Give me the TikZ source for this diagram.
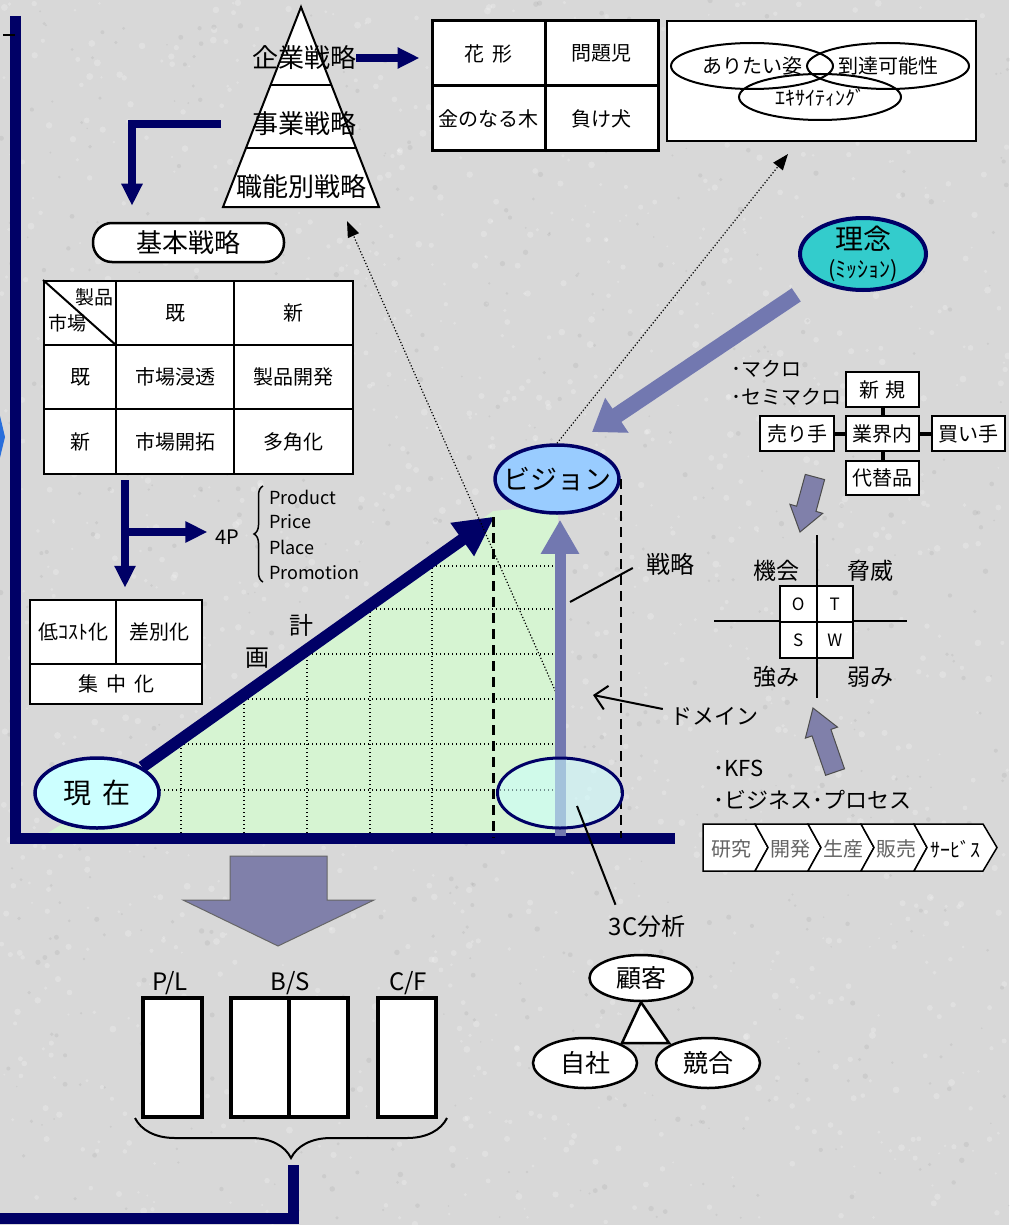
\documentclass[tikz,border=0pt]{standalone}
\usepackage{fontspec}
\setmainfont{Noto Sans CJK JP}
\usetikzlibrary{arrows.meta,shapes.geometric,decorations.pathreplacing}
\definecolor{navy}{RGB}{0,0,102}
\definecolor{bggray}{RGB}{216,216,216}
\definecolor{plangreen}{RGB}{214,244,210}
\definecolor{nowcyan}{RGB}{204,255,255}
\definecolor{visionblue}{RGB}{153,204,255}
\definecolor{missionteal}{RGB}{51,204,204}
\definecolor{arrowpurple}{RGB}{128,128,170}
\definecolor{stratblue}{RGB}{114,120,176}
\definecolor{chevblue}{RGB}{40,110,220}
\definecolor{procgray}{RGB}{100,100,100}
\begin{document}
\begin{tikzpicture}[x=1pt,y=-1pt,
  jp/.style={font=\fontsize{#1}{#1}\selectfont,inner sep=0pt},
  cell/.style={draw,line width=2pt,fill=white,inner sep=0pt},
  oval/.style={ellipse,draw,inner sep=0pt},
  navyarrow/.style={navy,line width=8pt,-{Triangle[length=22pt,width=20pt]}},
  dotarrow/.style={line width=1.2pt,dash pattern=on 1.2pt off 2pt,-{Triangle[length=16pt,width=12pt]}},
  gridline/.style={line width=1.4pt,dash pattern=on 1.4pt off 2.6pt},
  domainline/.style={line width=2.5pt,dash pattern=on 10pt off 6pt},
  bluearrow/.style={stratblue},
  blockarrow/.style={draw=black!70,fill=arrowpurple,line width=1pt,line join=miter},
  procstep/.style={draw,line width=1.5pt,fill=white}]
  \useasboundingbox (0,0) rectangle (1009,1225);
  \fill[bggray] (0,0) rectangle (1009,1225);
  \pgfmathsetseed{11}
  \foreach \i in {1,...,1400} {
    \fill[white,opacity=.22] (rnd*1009,rnd*1225) circle ({1+2.5*rnd});
  }
  \foreach \i in {1,...,700} {
    \fill[black,opacity=.05] (rnd*1009,rnd*1225) circle ({0.8+2*rnd});
  }

  \begin{scope}
    \clip (40,838) -- (147,770) -- (493,511) -- (558,505) -- (558,838) -- cycle;
    \fill[plangreen] (0,400) rectangle (600,840);
    \draw[gridline] (100,566) -- (558,566);
    \draw[gridline] (100,609) -- (558,609);
    \draw[gridline] (100,654) -- (558,654);
    \draw[gridline] (100,699) -- (558,699);
    \draw[gridline] (100,744) -- (558,744);
    \draw[gridline] (100,790) -- (558,790);
    \draw[gridline] (181,480) -- (181,838);
    \draw[gridline] (244,480) -- (244,838);
    \draw[gridline] (307,480) -- (307,838);
    \draw[gridline] (370,480) -- (370,838);
    \draw[gridline] (432,480) -- (432,838);
  \end{scope}
  \draw[navy,line width=11pt] (15,16) |- (675,838);
  \coordinate (xaxis) at (0,838);
  \draw[line width=1.5pt] (3,35) -- (15,35);
  \fill[chevblue] (-3,403) -- (5,437) -- (-3,470) -- cycle;

  \draw[fill=white,line width=2pt] (301,7) -- (379,207) -- (223,207) -- cycle;
  \draw[line width=2pt] (270.6,85) -- (331.4,85);
  \draw[line width=2pt] (246,148) -- (356,148);
  \node[jp=26] (corp) at (304,58) {企業戦略};
  \node[jp=26] (biz) at (304,124) {事業戦略};
  \node[jp=26] (func) at (301,187) {職能別戦略};
  \coordinate (pyrtip) at (347,221);

  \node[cell,line width=3pt,jp=20,minimum width=113pt,minimum height=65pt] (star) at (488.5,53.5) {花\hspace{8pt}形};
  \node[cell,line width=3pt,jp=20,minimum width=113pt,minimum height=65pt] (problem) at (601.5,53.5) {問題児};
  \node[cell,line width=3pt,jp=20,minimum width=113pt,minimum height=65pt] (cash) at (488.5,118.5) {金のなる木};
  \node[cell,line width=3pt,jp=20,minimum width=113pt,minimum height=65pt] (dog) at (601.5,118.5) {負け犬};
  \draw[navyarrow,shorten >=11pt] (corp.east) -- (corp.east -| star.west);

  \node[draw,line width=2pt,fill=white,minimum width=309pt,minimum height=120pt] (venn) at (821.5,81) {};
  \node[oval,line width=2pt,minimum width=162pt,minimum height=46pt,label={[jp=20]center:ありたい姿}] (ideal) at (752,66) {};
  \node[oval,line width=2pt,minimum width=162pt,minimum height=46pt,label={[jp=20]center:到達可能性}] (reach) at (888,66) {};
  \node[oval,line width=2pt,minimum width=162pt,minimum height=46pt,label={[jp=20]center:ｴｷｻｲﾃｨﾝｸﾞ}] (excite) at (820,97) {};

  \node[draw,line width=2.5pt,fill=white,rounded corners=19pt,minimum width=191pt,minimum height=39pt,jp=26] (basic) at (188.5,242.5) {基本戦略};
  \draw[navyarrow] ([xshift=-31pt]biz.west) -| ([xshift=-56.5pt,yshift=16pt]basic.north);

  \node[cell,minimum width=72pt,minimum height=64pt] (corner) at (80,313) {};
  \draw[line width=2pt] (corner.north west) -- (corner.south east);
  \node[jp=19] (prodlbl) at (94,297) {製品};
  \node[jp=19] (mktlbl) at (67,323) {市場};
  \node[cell,jp=20,minimum width=118pt,minimum height=64pt] (pold) at (175,313) {既};
  \node[cell,jp=20,minimum width=119pt,minimum height=64pt] (pnew) at (293.5,313) {新};
  \node[cell,jp=20,minimum width=72pt,minimum height=64pt] (mold) at (80,377) {既};
  \node[cell,jp=20,minimum width=118pt,minimum height=64pt] (pen) at (175,377) {市場浸透};
  \node[cell,jp=20,minimum width=119pt,minimum height=64pt] (pdev) at (293.5,377) {製品開発};
  \node[cell,jp=20,minimum width=72pt,minimum height=65pt] (mnew) at (80,441.5) {新};
  \node[cell,jp=20,minimum width=118pt,minimum height=65pt] (mdev) at (175,441.5) {市場開拓};
  \node[cell,jp=20,minimum width=119pt,minimum height=65pt] (divers) at (293.5,441.5) {多角化};

  \node[cell,line width=2.5pt,jp=20,minimum width=86pt,minimum height=64pt] (lowcost) at (73,632) {低ｺｽﾄ化};
  \node[cell,line width=2.5pt,jp=20,minimum width=86pt,minimum height=64pt] (diff) at (159,632) {差別化};
  \node[cell,line width=2.5pt,jp=20,minimum width=172pt,minimum height=40pt] (focus) at (116,684) {集\hspace{8pt}中\hspace{8pt}化};
  \coordinate (ansoffout) at (125,480);
  \coordinate (split) at (125,532);
  \node[jp=20] (fourp) at (227.5,537) {4P};
  \draw[navyarrow,shorten >=11pt] (ansoffout) -- (ansoffout |- lowcost.north);
  \draw[navyarrow,shorten >=8pt] (split) -- (split -| fourp.west);
  \draw[line width=1.5pt,decorate,decoration={brace,amplitude=9pt}] (263,582) -- (263,486);
  \node[jp=18,anchor=west] (product) at (269,497) {Product};
  \node[jp=18,anchor=west] (price) at (269,522) {Price};
  \node[jp=18,anchor=west] (place) at (269,547) {Place};
  \node[jp=18,anchor=west] (promo) at (269,573) {Promotion};

  \node[oval,draw=navy,line width=3.5pt,fill=nowcyan,minimum width=124pt,minimum height=70pt,label={[jp=28]center:現\hspace{12pt}在}] (now) at (97,793) {};
  \node[oval,draw=navy,line width=3.5pt,fill=visionblue,minimum width=124pt,minimum height=68pt,label={[jp=27]center:ビジョン}] (vision) at (557,479) {};
  \node[jp=24] (kei) at (301,625) {計};
  \node[jp=24] (ga) at (257,658) {画};
  \draw[navy,line width=12pt,-{Triangle[length=40pt,width=38pt]},shorten >=21pt] (now.north east) -- (vision.south west);
  \draw[domainline] ([yshift=-38pt]vision.west) -- (vision.west |- xaxis);
  \draw[domainline] (vision.east) -- (vision.east |- xaxis);
  \coordinate (domdot) at (558,697);
  \draw[dotarrow] (domdot) -- (pyrtip);
  \draw[dotarrow] (vision.north) -- ([xshift=-33.5pt,yshift=-12pt]venn.south);
  \coordinate (domainfoot) at (560,836);
  \draw[bluearrow,line width=11pt,-{Triangle[length=34pt,width=36pt]},shorten >=5pt] (domainfoot) -- (domainfoot |- vision.south);
  \node[oval,draw=navy,line width=3pt,fill=nowcyan,fill opacity=.55,minimum width=125pt,minimum height=70pt] (domain) at (560,793) {};

  \node[oval,draw=navy,line width=4pt,fill=missionteal,minimum width=126pt,minimum height=72pt,label={[jp=28,align=center]center:理念\\{\fontsize{22}{22}\selectfont(ﾐｯｼｮﾝ)}}] (mission) at (863,254) {};
  \coordinate (visiontop) at (592,432);
  \draw[bluearrow,line width=16pt,-{Triangle[length=30pt,width=40pt]},shorten <=25pt] (mission.south west) -- (visiontop);

  \node[jp=24] (strat) at (670,564) {戦略};
  \coordinate (stratpt) at (570,602);
  \draw[line width=2pt] (stratpt) -- ([xshift=-13pt,yshift=-4pt]strat.west);
  \node[jp=22] (domlbl) at (714,716) {ドメイン};
  \coordinate (domptr) at (593,695);
  \draw[line width=2pt,-{Straight Barb[length=12pt,width=24pt]}] ([shift={(-7pt,7pt)}]domlbl.west) -- (domptr);
  \node[jp=24] (threec) at (647,926) {3C分析};
  \coordinate (c3pt) at (577,806);
  \draw[line width=2pt] (c3pt) -- ([xshift=7pt,yshift=10pt]threec.north west);

  \node[oval,line width=2.5pt,fill=white,minimum width=103pt,minimum height=46pt,label={[jp=25]center:顧客}] (customer) at (641,978) {};
  \draw[fill=white,line width=2.5pt] (customer.south) -- (669,1043) -- (622,1043) -- cycle;
  \node[oval,line width=2.5pt,fill=white,minimum width=104pt,minimum height=50pt,label={[jp=25]center:自社}] (company) at (585,1063) {};
  \node[oval,line width=2.5pt,fill=white,minimum width=104pt,minimum height=50pt,label={[jp=25]center:競合}] (rival) at (708,1063) {};

  \node[jp=20,anchor=west] (macro) at (731,369) {･マクロ};
  \node[jp=20,anchor=west] (semimacro) at (731,397) {･セミマクロ};
  \node[cell,line width=2.5pt,jp=20,minimum width=73pt,minimum height=35pt] (newent) at (882.5,389.5) {新\hspace{6pt}規};
  \node[cell,line width=2.5pt,jp=20,minimum width=73pt,minimum height=35pt] (inside) at (882.5,433.5) {業界内};
  \node[cell,line width=2.5pt,jp=20,minimum width=74pt,minimum height=35pt] (seller) at (797,433.5) {売り手};
  \node[cell,line width=2.5pt,jp=20,minimum width=73pt,minimum height=35pt] (buyer) at (968.5,433.5) {買い手};
  \node[cell,line width=2.5pt,jp=20,minimum width=73pt,minimum height=34pt] (subst) at (882.5,478) {代替品};
  \draw[line width=4pt] (newent.south) -- (inside.north);
  \draw[line width=4pt] (seller.east) -- (inside.west);
  \draw[line width=4pt] (inside.east) -- (buyer.west);
  \draw[line width=4pt] (inside.south) -- (subst.north);
  \draw[blockarrow] (824.6,479.6) -- (816,511.4) -- (822.7,513.3) -- (800,532) -- (789.9,504.3) -- (796.6,506.2) -- (805.3,474.4) -- cycle;

  \draw[line width=2pt] (817,535) -- (817,698);
  \draw[line width=2pt] (714,621) -- (907,621);
  \node[cell,jp=17,minimum width=36.5pt,minimum height=36pt] (opp) at (798.25,604) {O};
  \node[cell,jp=17,minimum width=36.5pt,minimum height=36pt] (thr) at (834.75,604) {T};
  \node[cell,jp=17,minimum width=36.5pt,minimum height=36pt] (stren) at (798.25,640) {S};
  \node[cell,jp=17,minimum width=36.5pt,minimum height=36pt] (weak) at (834.75,640) {W};
  \node[jp=23] (opplbl) at (776,571) {機会};
  \node[jp=23] (thrlbl) at (870,571) {脅威};
  \node[jp=23] (strlbl) at (776,677) {強み};
  \node[jp=23] (wklbl) at (870,677) {弱み};

  \draw[blockarrow] (844.5,768.8) -- (830.9,729.4) -- (837.5,727.1) -- (813,708) -- (805.4,738.1) -- (812,735.9) -- (825.6,775.3) -- cycle;
  \node[jp=22,anchor=west] (kfs) at (713,768) {･KFS};
  \node[jp=22,anchor=west] (bizproc) at (713,800) {･ビジネス･プロセス};
  \draw[procstep] (703,824) -- (755,824) -- (768,847.5) -- (755,871) -- (703,871) -- cycle;
  \draw[procstep] (755,824) -- (808,824) -- (821,847.5) -- (808,871) -- (755,871) -- (768,847.5) -- cycle;
  \draw[procstep] (808,824) -- (861,824) -- (874,847.5) -- (861,871) -- (808,871) -- (821,847.5) -- cycle;
  \draw[procstep] (861,824) -- (914,824) -- (927,847.5) -- (914,871) -- (861,871) -- (874,847.5) -- cycle;
  \draw[procstep] (914,824) -- (983,824) -- (997,847.5) -- (983,871) -- (914,871) -- (927,847.5) -- cycle;
  \node[jp=20,text=procgray] (research) at (731,849) {研究};
  \node[jp=20,text=procgray] (develop) at (790,849) {開発};
  \node[jp=20,text=procgray] (produce) at (843,849) {生産};
  \node[jp=20,text=procgray] (sales) at (896,849) {販売};
  \node[jp=20] (service) at (955,849) {ｻｰﾋﾞｽ};

  \draw[fill=arrowpurple,draw=black!60,line width=1pt] (230,856) -- (327,856) -- (327,900) -- (374,900) -- (278,946) -- (183,900) -- (230,900) -- cycle;
  \node[jp=24] (pllbl) at (170,983) {P/L};
  \node[jp=24] (bslbl) at (290,983) {B/S};
  \node[jp=24] (cflbl) at (408,983) {C/F};
  \node[draw,line width=4pt,fill=white,minimum width=59pt,minimum height=119pt] (pl) at (172.5,1057.5) {};
  \node[draw,line width=4pt,fill=white,minimum width=58pt,minimum height=119pt] (bsl) at (260,1057.5) {};
  \node[draw,line width=4pt,fill=white,minimum width=59pt,minimum height=119pt] (bsr) at (318.5,1057.5) {};
  \node[draw,line width=4pt,fill=white,minimum width=58pt,minimum height=119pt] (cf) at (407,1057.5) {};
  \draw[line width=2pt,decorate,decoration={brace,amplitude=40pt}] (447,1118) -- (135,1118);
  \coordinate (bracetip) at (293,1165);
  \coordinate (pageedge) at (-6,1218);
  \draw[navy,line width=11pt] (bracetip) |- (pageedge);
\end{tikzpicture}
\end{document}
